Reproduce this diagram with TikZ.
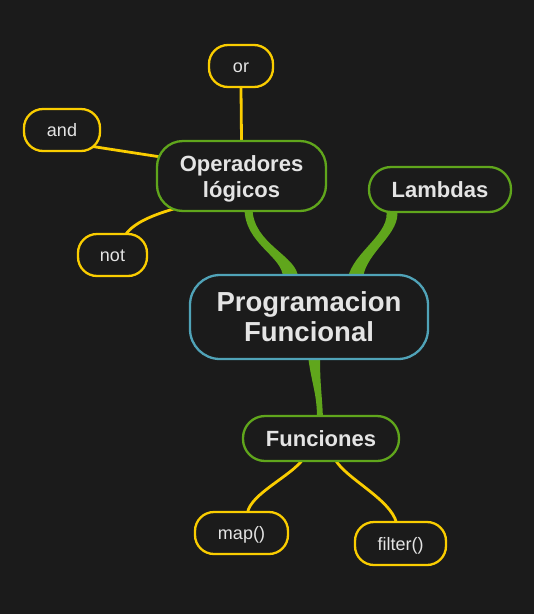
\documentclass[tikz,border=0pt]{standalone}
\usepackage{fontspec}
\setmainfont{Liberation Sans}
\usetikzlibrary{calc}
\definecolor{bgc}{RGB}{27,27,27}
\definecolor{grn}{RGB}{96,166,28}
\definecolor{teal}{RGB}{80,163,184}
\definecolor{ylw}{RGB}{250,205,0}
\definecolor{txt}{RGB}{228,228,228}
\pgfdeclarelayer{bg}
\pgfdeclarelayer{edges}
\pgfsetlayers{bg,edges,main}
\tikzset{
  basebox/.style={fill=bgc, text=txt, align=center, inner sep=0pt, line width=2.3pt},
  rootbox/.style={basebox, draw=teal, rounded corners=30pt, minimum width=238pt, minimum height=84pt,
    font=\fontsize{27.5}{30}\selectfont\bfseries},
  topicbox/.style={basebox, draw=grn, rounded corners=22pt, font=\fontsize{22}{26}\selectfont\bfseries},
  leafbox/.style={basebox, draw=ylw, rounded corners=19pt, minimum height=42pt, text height=13pt, text depth=0pt,
    font=\fontsize{18}{22}\selectfont},
  branch/.style={fill=grn},
  twig/.style={draw=ylw, line width=2.8pt}
}
\begin{document}
\begin{tikzpicture}[x=1pt,y=-1pt]
\begin{pgfonlayer}{bg}
\fill[bgc] (0,0) rectangle (534,614);
\end{pgfonlayer}
\useasboundingbox (0,0) rectangle (534,614);

\node[rootbox] (pf) at (309,317) {Programacion\\Funcional};
\node[topicbox, minimum width=169pt, minimum height=70pt, rounded corners=26pt] (ops) at (241.5,176) {\rule{0pt}{21pt}Operadores\\lógicos};
\node[topicbox, minimum width=142pt, minimum height=45pt] (lam) at (440,189.5) {Lambdas};
\node[topicbox, minimum width=156pt, minimum height=45pt] (fun) at (321,438.5) {Funciones};
\node[leafbox, minimum width=64pt] (or) at (241,66) {or};
\node[leafbox, minimum width=76pt] (and) at (62,130) {and};
\node[leafbox, minimum width=69pt] (not) at (112.5,255) {not};
\node[leafbox, minimum width=93pt] (map) at (241.5,533) {map()};
\node[leafbox, minimum width=91pt, minimum height=43pt] (filt) at (400.5,543.5) {filter()};

\begin{pgfonlayer}{edges}
% root -> Operadores
\fill[branch] ($(pf.north)+(-26,4)$) .. controls ($(pf.north)+(-26,-18)$) and ($(ops.south)+(3,32)$) .. ($(ops.south)+(3,-4)$)
  -- ($(ops.south)+(11,-4)$) .. controls ($(ops.south)+(11,32)$) and ($(pf.north)+(-11,-18)$) .. ($(pf.north)+(-11,4)$) -- cycle;
% root -> Lambdas
\fill[branch] ($(pf.north)+(39,4)$) .. controls ($(pf.north)+(44,-22)$) and ($(lam.south)+(-48,20)$) .. ($(lam.south)+(-54,-4)$)
  -- ($(lam.south)+(-43,-4)$) .. controls ($(lam.south)+(-38,20)$) and ($(pf.north)+(57,-22)$) .. ($(pf.north)+(54,4)$) -- cycle;
% root -> Funciones
\fill[branch] ($(pf.south)+(-1,-4)$) .. controls ($(pf.south)+(3,26)$) and ($(fun.north)+(-4,-22)$) .. ($(fun.north)+(-4,4)$)
  -- ($(fun.north)+(2,4)$) .. controls ($(fun.north)+(1,-22)$) and ($(pf.south)+(11,26)$) .. ($(pf.south)+(11,-4)$) -- cycle;
% leaves
\draw[twig] (or.south) -- (ops.north);
\draw[twig] ($(and.center)+(8,13)$) -- ($(ops.west)+(18,-17)$);
\draw[twig] ($(not.north)+(13,2)$) .. controls ($(not.north)+(22,-12)$) and ($(ops.south west)+(5,0)$) .. ($(ops.south west)+(28,-6)$);
\draw[twig] ($(map.north)+(6,2)$) .. controls ($(map.north)+(9,-17)$) and ($(fun.south)+(-30,14)$) .. ($(fun.south)+(-18,-3)$);
\draw[twig] ($(filt.north)+(-4,2)$) .. controls ($(filt.north)+(-10,-22)$) and ($(fun.south)+(24,16)$) .. ($(fun.south)+(14,-3)$);
\end{pgfonlayer}
\end{tikzpicture}
\end{document}
